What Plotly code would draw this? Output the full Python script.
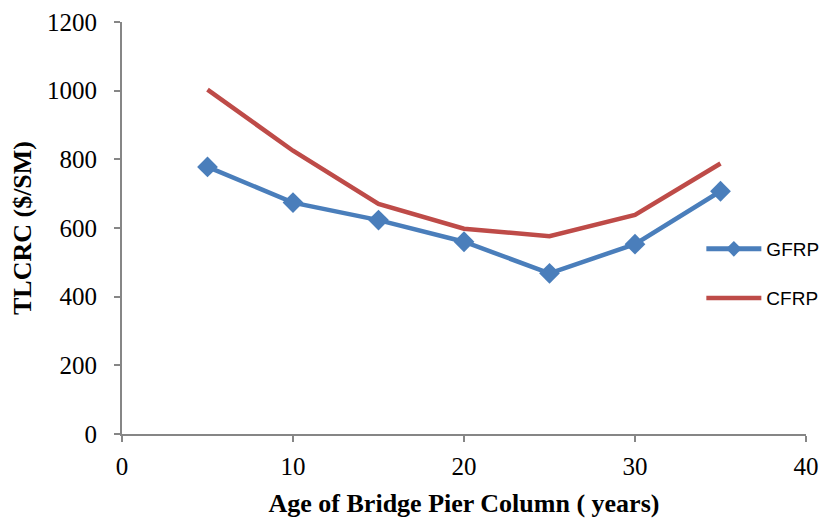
import plotly.graph_objects as go

age = [5, 10, 15, 20, 25, 30, 35]
gfrp = [778, 674, 623, 560, 468, 553, 707]
cfrp = [1003, 825, 670, 598, 576, 638, 788]

x_ticks = [0, 10, 20, 30, 40]
y_ticks = [0, 200, 400, 600, 800, 1000, 1200]

SERIF = "Liberation Serif"

fig = go.Figure()
fig.add_trace(go.Scatter(
    x=age, y=gfrp, name="GFRP", mode="lines+markers",
    line=dict(color="#4A7EBB", width=4.5),
    marker=dict(symbol="diamond", size=16, color="#4A7EBB"),
    legend="legend",
))
fig.add_trace(go.Scatter(
    x=age, y=cfrp, name="CFRP", mode="lines",
    line=dict(color="#BE4B48", width=4.5),
    legend="legend2",
))

axis_common = dict(
    showline=True, linecolor="#868686", linewidth=2,
    ticks="outside", tickcolor="#868686", ticklen=6, tickwidth=2,
    showgrid=False, zeroline=False, automargin=False,
    tickfont=dict(family=SERIF, size=25, color="#000000"),
)

leg_font = dict(family="Liberation Sans", size=19, color="#000000")
title_font = dict(family=SERIF, size=26, color="#000000")

fig.update_layout(
    width=828, height=520,
    font=dict(family=SERIF, size=25, color="#000000"),
    margin=dict(l=114, r=28, t=14, b=94),
    paper_bgcolor="white", plot_bgcolor="white",
    xaxis=dict(range=[0, 40], tickvals=x_ticks, ticklabelstandoff=3,
               title=dict(text="<b>Age of Bridge Pier Column ( years)</b>",
                          font=title_font),
               **axis_common),
    yaxis=dict(range=[0, 1200], tickvals=y_ticks, ticklabelstandoff=12,
               title=dict(text="<b>TLCRC ($/SM)</b>", font=title_font),
               **axis_common),
    legend=dict(x=0.847, y=0.449, xanchor="left", yanchor="middle",
                bgcolor="rgba(0,0,0,0)", font=leg_font, itemwidth=55,
                itemsizing="constant"),
    legend2=dict(x=0.847, y=0.330, xanchor="left", yanchor="middle",
                 bgcolor="rgba(0,0,0,0)", font=leg_font, itemwidth=55),
    showlegend=True,
)

fig.write_html("out.html")
